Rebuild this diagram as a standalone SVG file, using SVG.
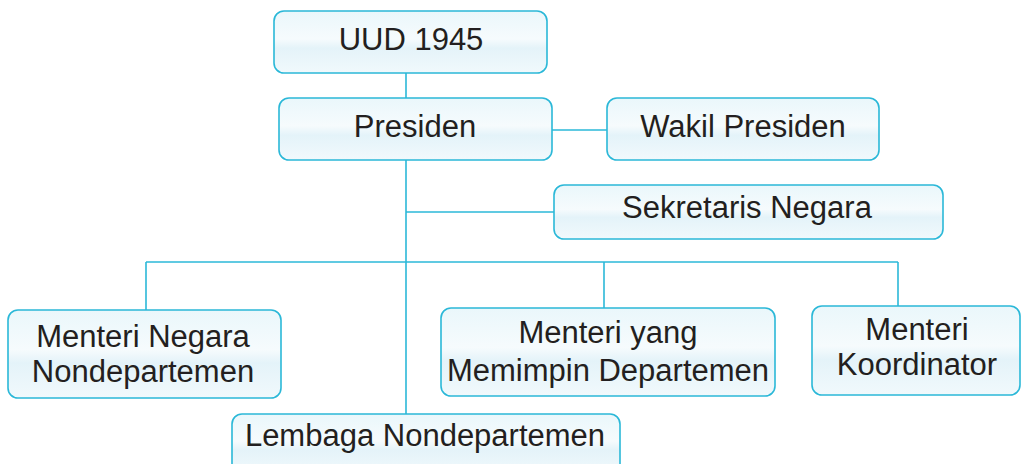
<svg xmlns="http://www.w3.org/2000/svg" width="1022" height="464" viewBox="0 0 1022 464">
<defs>
<linearGradient id="bg" x1="0" y1="0" x2="0" y2="1">
<stop offset="0" stop-color="#eaf7fb"/>
<stop offset="0.45" stop-color="#f6fbfd"/>
<stop offset="0.6" stop-color="#e4f3f9"/>
<stop offset="1" stop-color="#f1f9fc"/>
</linearGradient>
</defs>
<style>
.box{fill:url(#bg);stroke:#2bb8d8;stroke-width:1.6}
.t{font-family:"Liberation Sans",Arial,sans-serif;font-size:31px;fill:#231f20;text-anchor:middle}
.c{stroke:#2bb8d8;stroke-width:1.6;fill:none}
</style>
<rect width="1022" height="464" fill="#ffffff"/>
<g id="connectors">
<path class="c" d="M406 73V415"/>
<path class="c" d="M552 130H607"/>
<path class="c" d="M406 212H554"/>
<path class="c" d="M146 262H898"/>
<path class="c" d="M146 262V310"/>
<path class="c" d="M604 262V308"/>
<path class="c" d="M898 262V306"/>
</g>
<g id="uud"><rect class="box" x="274" y="11" width="273" height="62" rx="10"/><text class="t" x="411" y="50">UUD 1945</text></g>
<g id="presiden"><rect class="box" x="279" y="98" width="273" height="62" rx="10"/><text class="t" x="415" y="137">Presiden</text></g>
<g id="wakil"><rect class="box" x="607" y="98" width="272" height="62" rx="10"/><text class="t" x="743" y="137">Wakil Presiden</text></g>
<g id="sekretaris"><rect class="box" x="554" y="185" width="389" height="54" rx="10"/><text class="t" x="747" y="218">Sekretaris Negara</text></g>
<g id="menteri-negara"><rect class="box" x="8" y="310" width="273" height="88" rx="10"/><text class="t" x="143" y="347">Menteri Negara</text><text class="t" x="143" y="382">Nondepartemen</text></g>
<g id="menteri-departemen"><rect class="box" x="441" y="308" width="334" height="88" rx="10"/><text class="t" x="608" y="343">Menteri yang</text><text class="t" x="608" y="381">Memimpin Departemen</text></g>
<g id="menteri-koordinator"><rect class="box" x="812" y="306" width="208" height="89" rx="10"/><text class="t" x="917" y="340">Menteri</text><text class="t" x="917" y="375">Koordinator</text></g>
<g id="lembaga"><rect class="box" x="232" y="414" width="388" height="60" rx="10"/><text class="t" x="425" y="446">Lembaga Nondepartemen</text></g>
</svg>
